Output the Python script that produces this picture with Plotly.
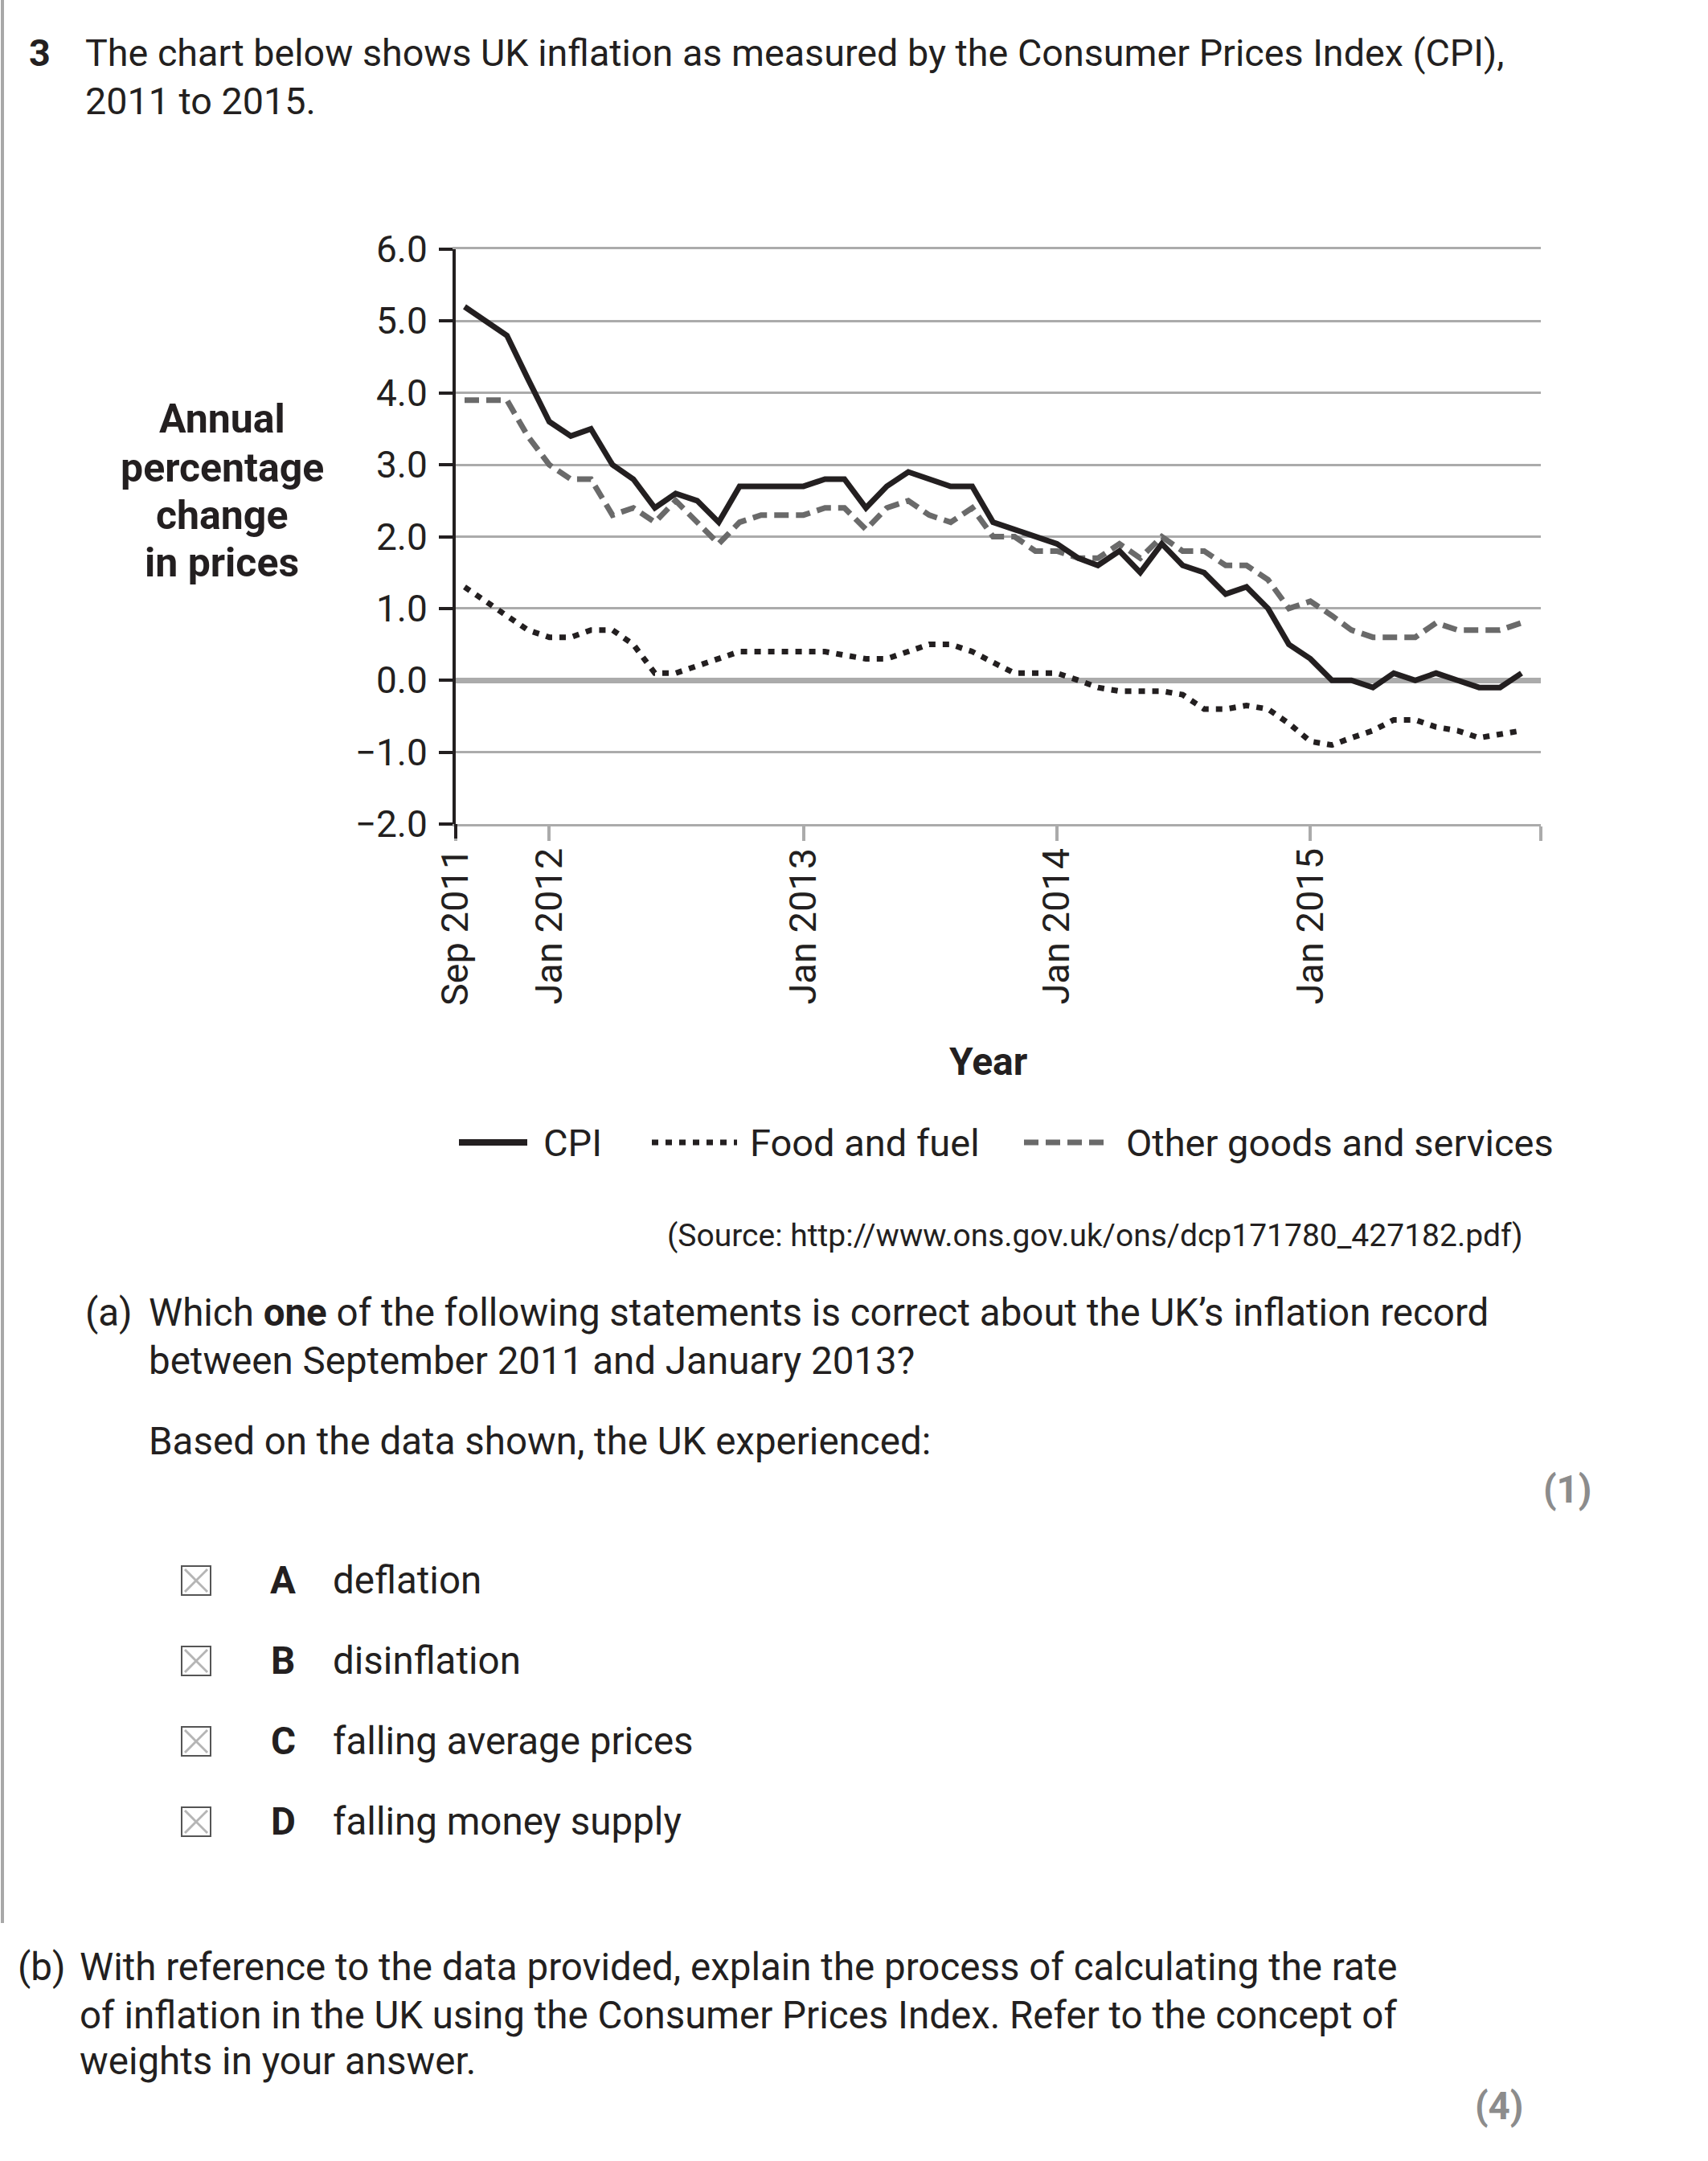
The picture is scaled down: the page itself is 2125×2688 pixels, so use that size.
import pandas as pd
import plotly.graph_objects as go

# ---------------- data ----------------
months = pd.date_range("2011-09-01", periods=51, freq="MS")

cpi = [5.2, 5.0, 4.8, 4.2,
       3.6, 3.4, 3.5, 3.0, 2.8, 2.4, 2.6, 2.5, 2.2, 2.7, 2.7, 2.7,
       2.7, 2.8, 2.8, 2.4, 2.7, 2.9, 2.8, 2.7, 2.7, 2.2, 2.1, 2.0,
       1.9, 1.7, 1.6, 1.8, 1.5, 1.9, 1.6, 1.5, 1.2, 1.3, 1.0, 0.5,
       0.3, 0.0, 0.0, -0.1, 0.1, 0.0, 0.1, 0.0, -0.1, -0.1, 0.1]

food_fuel = [1.3, 1.1, 0.9, 0.7,
             0.6, 0.6, 0.7, 0.7, 0.5, 0.1, 0.1, 0.2, 0.3, 0.4, 0.4, 0.4,
             0.4, 0.4, 0.35, 0.3, 0.3, 0.4, 0.5, 0.5, 0.4, 0.25, 0.1, 0.1,
             0.1, 0.0, -0.1, -0.15, -0.15, -0.15, -0.2, -0.4, -0.4, -0.35, -0.4, -0.6,
             -0.85, -0.9, -0.8, -0.7, -0.55, -0.55, -0.65, -0.7, -0.8, -0.75, -0.7]

other_goods = [3.9, 3.9, 3.9, 3.4,
               3.0, 2.8, 2.8, 2.3, 2.4, 2.2, 2.5, 2.2, 1.9, 2.2, 2.3, 2.3,
               2.3, 2.4, 2.4, 2.1, 2.4, 2.5, 2.3, 2.2, 2.4, 2.0, 2.0, 1.8,
               1.8, 1.7, 1.7, 1.9, 1.7, 2.0, 1.8, 1.8, 1.6, 1.6, 1.4, 1.0,
               1.1, 0.9, 0.7, 0.6, 0.6, 0.6, 0.8, 0.7, 0.7, 0.7, 0.8]

series_names = ["CPI", "Food and fuel", "Other goods and services"]
x_tick_labels = ["Sep 2011", "Jan 2012", "Jan 2013", "Jan 2014", "Jan 2015", ""]
x_tick_dates = ["2012-01-01", "2013-01-01", "2014-01-01", "2015-01-01"]
y_ticks = [-2, -1, 0, 1, 2, 3, 4, 5, 6]
y_title_lines = ["Annual", "percentage", "change", "in prices"]

# ---------------- layout constants ----------------
W, H = 2125, 2688
L, R, T, B = 567, 1917, 310, 1025       # plot area in page pixels
FONT = "Roboto"
TXT = "#231f20"
GRID = "#ababab"
DASHGREY = "#6a6a6a"
FS = 47.5      # body text
FS_T = 47      # legend / ticks

x_start = pd.Timestamp("2011-08-19 07:00")
x_end = pd.Timestamp("2015-11-28 19:00")


def px(x):
    return (x - L) / (R - L)


def py(y):
    return (B - y) / (B - T)


fig = go.Figure()
fig.add_trace(go.Scatter(x=months, y=food_fuel, name=series_names[1], mode="lines",
                         line=dict(color=TXT, width=7, dash="8px,9px")))
fig.add_trace(go.Scatter(x=months, y=other_goods, name=series_names[2], mode="lines",
                         line=dict(color=DASHGREY, width=7, dash="18px,9px")))
fig.add_trace(go.Scatter(x=months, y=cpi, name=series_names[0], mode="lines",
                         line=dict(color=TXT, width=7)))

annotations = []


def note(text, x, y, size=FS, xanchor="left", color=TXT, align="left"):
    annotations.append(dict(text=text, x=px(x), y=py(y), xref="paper", yref="paper",
                            xanchor=xanchor, yanchor="middle", showarrow=False,
                            align=align, font=dict(family=FONT, size=size, color=color)))


shapes = []


def seg(x0, y0, x1, y1, color, width, dash="solid"):
    shapes.append(dict(type="line", xref="paper", yref="paper",
                       x0=px(x0), y0=py(y0), x1=px(x1), y1=py(y1),
                       line=dict(color=color, width=width, dash=dash)))


# question header
note("<b>3</b>", 34, 66, size=46.7)
note("The chart below shows UK inflation as measured by the Consumer Prices Index (CPI),", 104, 66, size=46.7)
note("2011 to 2015.", 104, 126, size=46.7)

# axis titles
for line_text, yc in zip(y_title_lines, [521, 582, 641, 700]):
    note("<b>" + line_text + "</b>", 276, yc, size=50, xanchor="center")
note("<b>Year</b>", 1230, 1320, size=48, xanchor="center")

# legend (drawn manually to match the long line samples)
seg(571, 1421, 656, 1421, TXT, 8)
note(series_names[0], 674, 1421, size=FS_T)
seg(811, 1421, 917, 1421, TXT, 7, "8px,9px")
note(series_names[1], 931, 1421, size=FS_T)
seg(1274, 1421, 1380, 1421, DASHGREY, 7, "18px,9px")
note(series_names[2], 1399, 1421, size=FS_T)

# source
note("(Source: http://www.ons.gov.uk/ons/dcp171780_427182.pdf)", 1897, 1537, size=39, xanchor="right")

# part (a)
note("(a)", 104, 1633)
note("Which <b>one</b> of the following statements is correct about the UK\u2019s inflation record", 183, 1633)
note("between September 2011 and January 2013?", 183, 1693)
note("Based on the data shown, the UK experienced:", 183, 1793)
note("<b>(1)</b>", 1950, 1853, xanchor="center", color="#8c8c8c")

options = [("A", "deflation"), ("B", "disinflation"),
           ("C", "falling average prices"), ("D", "falling money supply")]
opt_y = [1966, 2066, 2166, 2266]
for (letter, label), yc in zip(options, opt_y):
    shapes.append(dict(type="rect", xref="paper", yref="paper",
                       x0=px(226), x1=px(262), y0=py(yc - 18), y1=py(yc + 18),
                       line=dict(color="#555555", width=2), fillcolor="#ffffff"))
    seg(230, yc - 14, 258, yc + 14, "#b5b5b5", 3)
    seg(230, yc + 14, 258, yc - 14, "#b5b5b5", 3)
    note("<b>" + letter + "</b>", 352, yc, xanchor="center")
    note(label, 412, yc)

# part (b)
note("(b)", 20, 2447)
note("With reference to the data provided, explain the process of calculating the rate", 97, 2447)
note("of inflation in the UK using the Consumer Prices Index. Refer to the concept of", 97, 2507)
note("weights in your answer.", 97, 2564)
note("<b>(4)</b>", 1865, 2620, xanchor="center", color="#8c8c8c")

# left margin rule of the page
seg(3, 0, 3, 2392, "#a8a8a8", 4)
# y axis extension below the plot (first category tick)
seg(L, B, L, B + 18, TXT, 4)

fig.update_layout(
    width=W, height=H, autosize=False,
    margin=dict(l=L, r=W - R, t=T, b=H - B, pad=0),
    paper_bgcolor="white", plot_bgcolor="white",
    showlegend=False,
    font=dict(family=FONT, size=FS, color=TXT),
    annotations=annotations, shapes=shapes,
)
fig.update_xaxes(
    type="date", range=[x_start, x_end],
    tickmode="array", tickvals=[x_start] + x_tick_dates + [x_end], ticktext=x_tick_labels,
    tickangle=-90, ticks="outside", ticklen=18, tickwidth=4, tickcolor=GRID,
    showgrid=False, zeroline=False,
    showline=True, linecolor=GRID, linewidth=3, mirror=True,
    tickfont=dict(family=FONT, size=FS_T, color=TXT), ticklabelstandoff=-10,
)
fig.update_yaxes(
    range=[-2, 6], tickmode="array", tickvals=y_ticks, tickformat=".1f",
    ticks="outside", ticklen=17, tickwidth=4, tickcolor=TXT,
    showgrid=True, gridcolor=GRID, gridwidth=3,
    zeroline=True, zerolinecolor=GRID, zerolinewidth=7,
    showline=True, linecolor=TXT, linewidth=4,
    tickfont=dict(family=FONT, size=46, color=TXT), ticklabelstandoff=5,
)

fig.write_html("out.html", config={"displayModeBar": False},
               post_script="document.body.style.margin='0';")
